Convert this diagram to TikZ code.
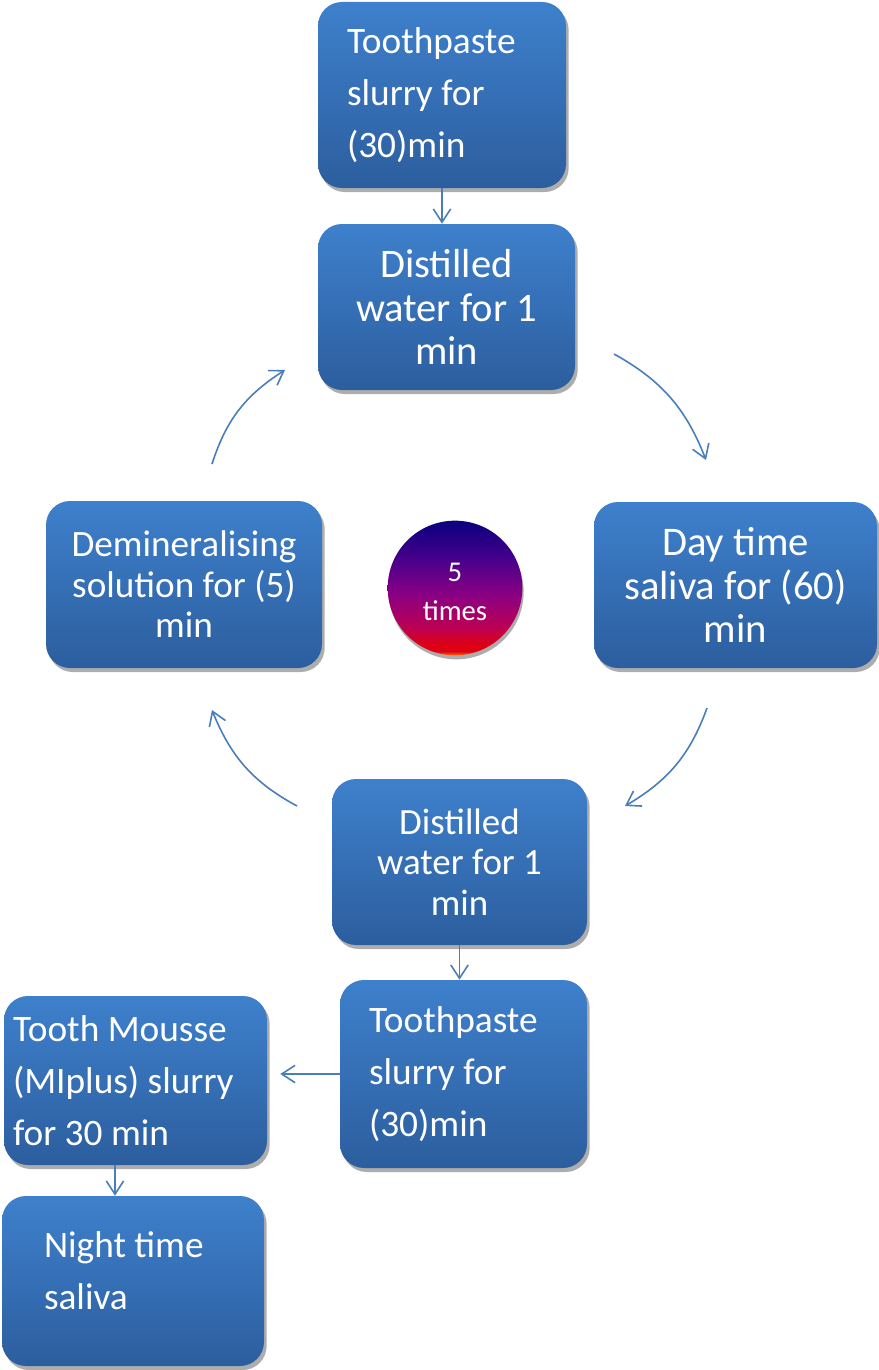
\documentclass[tikz,border=0pt]{standalone}
\usepackage{fontspec}
\setmainfont{Carlito}
\usetikzlibrary{arrows.meta,shadows,bending}

\definecolor{boxtop}{RGB}{62,128,204}
\definecolor{boxbot}{RGB}{44,94,158}
\definecolor{arrowblue}{RGB}{74,126,187}
\definecolor{repnavy}{RGB}{16,0,128}
\definecolor{repindigo}{RGB}{75,0,140}
\definecolor{reppurple}{RGB}{140,0,130}
\definecolor{repmagenta}{RGB}{190,0,80}
\definecolor{repred}{RGB}{222,0,20}
\definecolor{reporange}{RGB}{255,110,0}

\pgfdeclareverticalshading{repshade}{100bp}{color(0bp)=(reporange); color(25bp)=(reporange);
  color(26.5bp)=(repred); color(29bp)=(repred); color(35bp)=(repmagenta);
  color(47bp)=(reppurple); color(60bp)=(repindigo); color(73bp)=(repnavy); color(100bp)=(repnavy)}

\tikzset{
  stepbox/.style={rounded corners=18pt, top color=boxtop, bottom color=boxbot,
    text=white, inner sep=0pt,
    drop shadow={shadow xshift=2pt, shadow yshift=-3pt, fill=black!40, opacity=0.8}},
  leftbox/.style={stepbox, align=flush left, font=\fontsize{28pt}{39pt}\selectfont},
  midbox/.style={stepbox, align=center},
  flow/.style={draw=arrowblue, line width=1.2pt, -{Straight Barb[length=10pt,width=13pt]}},
}

\begin{document}
\begin{tikzpicture}[x=0.75pt, y=0.75pt]
  \useasboundingbox (0,0) rectangle (878,-1370);

  % the loop
  \node[leftbox, minimum width=186pt, minimum height=139.5pt, text width=142.5pt] (tp1) at (442,-95) {Toothpaste\\slurry for\\(30)min};
  \node[midbox, minimum width=192.75pt, minimum height=124.5pt, font=\fontsize{30.4pt}{32.6pt}\selectfont] (dw1) at (446.5,-307) {Distilled\\water for 1\\min};
  \node[midbox, minimum width=212.25pt, minimum height=124.5pt, font=\fontsize{30.5pt}{32.5pt}\selectfont] (day) at (735.5,-585) {Day time\\saliva for (60)\\min};
  \node[midbox, minimum width=191.25pt, minimum height=124.5pt, font=\fontsize{27.7pt}{30.4pt}\selectfont] (dw2) at (459.5,-862) {Distilled\\water for 1\\min};
  \node[midbox, minimum width=207pt, minimum height=125.25pt, font=\fontsize{27.9pt}{30.4pt}\selectfont] (dem) at (184,-584.5) {Demineralising\\solution for (5)\\min};

  \node[circle, minimum size=101pt, inner sep=0pt, shade, shading=repshade,
    drop shadow={shadow xshift=1pt, shadow yshift=-3pt, fill=black!40, opacity=0.8}] (rep) at (455,-588) {};
  \node[text=white, align=center, inner sep=0pt, font=\fontsize{21.5pt}{29pt}\selectfont] (replabel) at ([yshift=-3pt]rep.center) {5\\times};

  % after the loop
  \node[leftbox, minimum width=185.25pt, minimum height=141pt, text width=141.75pt] (tp2) at (463.5,-1074) {Toothpaste\\slurry for\\(30)min};
  \node[leftbox, minimum width=197.25pt, minimum height=126.75pt, text width=183.75pt] (tm) at (135.5,-1080.5) {Tooth Mousse\\(MIplus) slurry\\for 30 min};
  \node[stepbox, minimum width=196.5pt, minimum height=127.5pt] (nt) at (133,-1281) {};
  \node[text=white, align=flush left, inner sep=0pt, text width=133.5pt, font=\fontsize{28pt}{39pt}\selectfont] (ntlabel) at ([yshift=7.5pt]nt.center) {Night time\\saliva};

  % ends of the curved arrows
  \coordinate (c1a) at (614,-354);
  \coordinate (c1b) at (706,-460);
  \coordinate (c2a) at (707,-708);
  \coordinate (c2b) at (625,-806);
  \coordinate (c3a) at (297,-806);
  \coordinate (c3b) at (212,-710);
  \coordinate (c4a) at (212,-464);
  \coordinate (c4b) at (285,-370);

  \draw[flow] (tp1.south) -- (tp1.south |- dw1.north);
  \draw[flow] (c1a) to[bend left=20] (c1b);
  \draw[flow] (c2a) to[bend left=20] (c2b);
  \draw[flow] (c3a) to[bend left=20] (c3b);
  \draw[flow] (c4a) to[bend left=20] (c4b);
  \draw[flow] (dw2.south) -- (dw2.south |- tp2.north);
  \draw[flow, shorten >=9.75pt] (tp2.west) -- (tp2.west -| tm.east);
  \draw[flow] ([xshift=-15.4pt]tm.south) -- ([xshift=-15.4pt]tm.south |- nt.north);
\end{tikzpicture}
\end{document}
